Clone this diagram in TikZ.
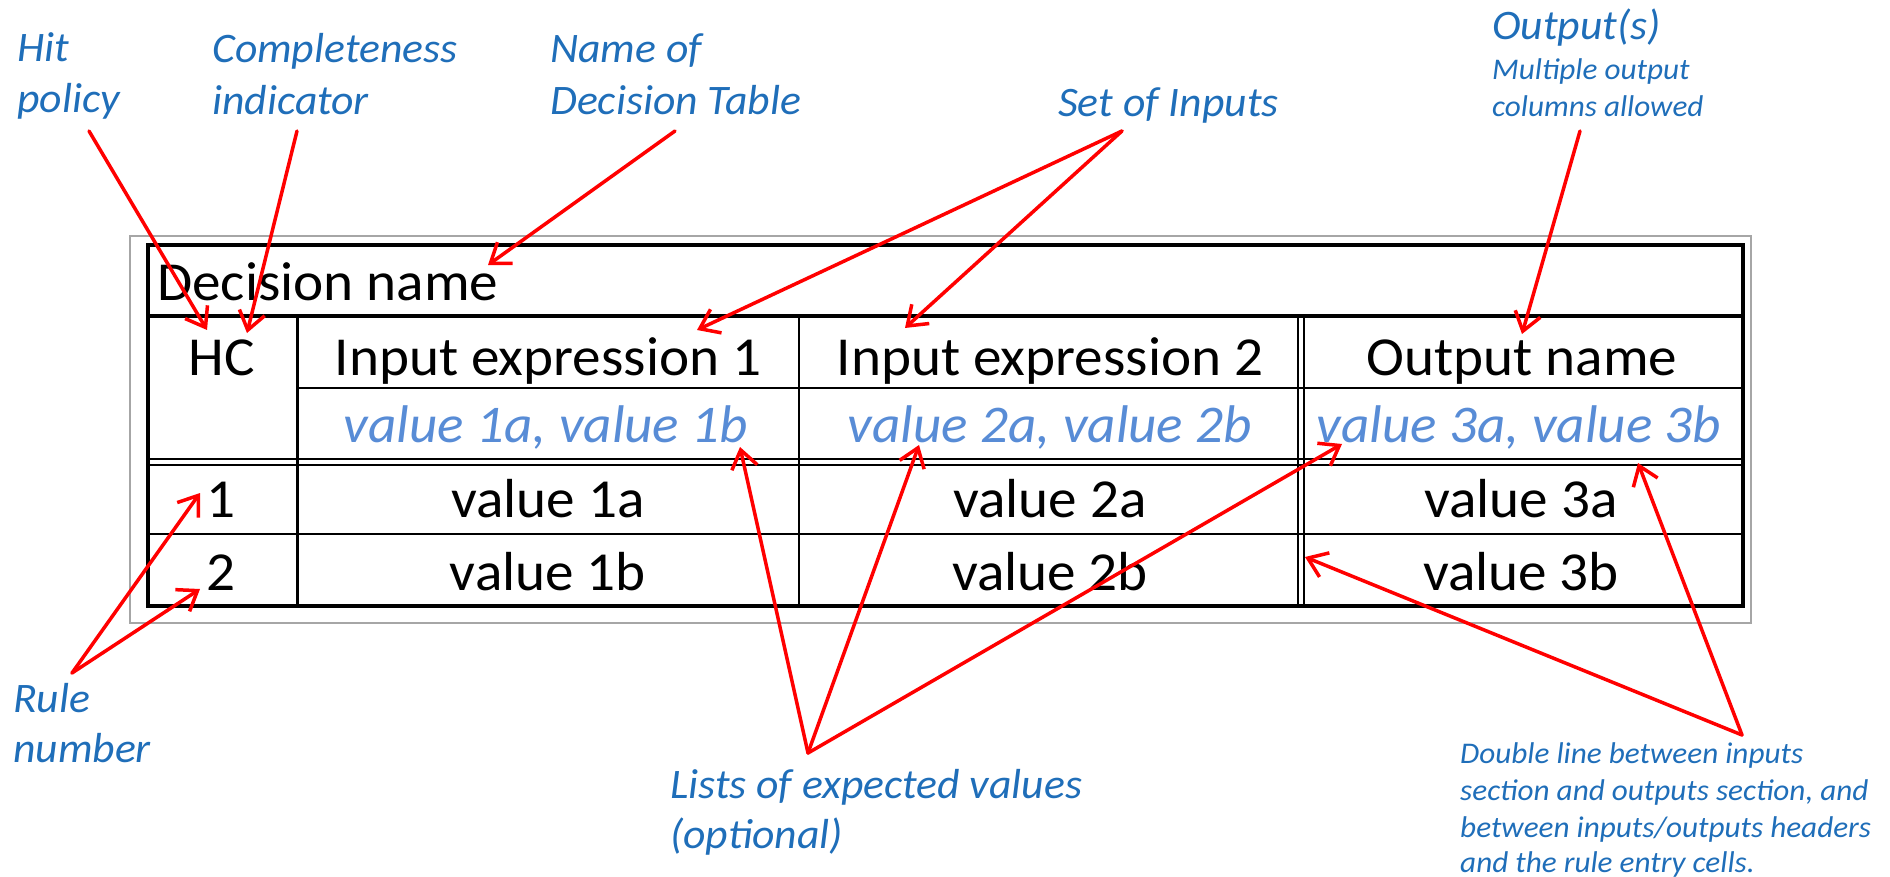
\documentclass[tikz,border=0pt]{standalone}
\usepackage{fontspec}
\setmainfont{Carlito}[FakeStretch=1.04]
\usetikzlibrary{arrows.meta}
\definecolor{lblue}{RGB}{31,110,185}
\definecolor{vblue}{RGB}{88,140,214}
\definecolor{ared}{RGB}{255,0,0}
\definecolor{framegray}{RGB}{166,166,166}
\begin{document}
\begin{tikzpicture}[x=1pt,y=-1pt,
  cell/.style={font=\fontsize{55}{60}\selectfont, inner sep=0pt, anchor=base},
  val/.style={font=\fontsize{53}{60}\selectfont\itshape, text=vblue, inner sep=0pt, anchor=base},
  lbl/.style={font=\fontsize{42}{50}\selectfont\itshape, text=lblue, inner sep=0pt, anchor=base west},
  smalllbl/.style={font=\fontsize{30}{37}\selectfont\itshape, text=lblue, inner sep=0pt, anchor=base west},
  thick line/.style={line width=3.5pt},
  thin line/.style={line width=1.2pt},
  arr/.style={draw=ared, line width=3.5pt, line cap=round, -{Straight Barb[length=18pt,width=26pt,line width=3.5pt]}}
]
\useasboundingbox (0,0) rectangle (1890,877);

% outer gray frame
\draw[framegray, line width=2.5pt] (130,236) rectangle (1751,623);

% table grid
\draw[thin line] (148,534) -- (1743,534);
\draw[thin line] (799,316) -- (799,607);
\draw[line width=2.5pt] (297,388) -- (1743,388);
\draw[line width=2pt] (148,459) -- (1743,459);
\draw[line width=2pt] (148,464.5) -- (1743,464.5);
\draw[line width=2pt] (1298,316) -- (1298,607);
\draw[line width=2pt] (1304,316) -- (1304,607);
\draw[line width=3pt] (297,316) -- (297,607);
\draw[thick line] (148,316) -- (1743,316);
\draw[thick line] (148,245) rectangle (1743,606);

% table texts
\node[cell, anchor=base west] (dname) at (157,301) {Decision name};
\node[cell] (hc) at (222,375) {HC};
\node[cell] (in1) at (548,375) {Input expression 1};
\node[cell] (in2) at (1050,375) {Input expression 2};
\node[cell] (outn) at (1522,375) {Output name};
\node[val] (v1) at (546,442) {value 1a, value 1b};
\node[val] (v2) at (1050,442) {value 2a, value 2b};
\node[val] (v3) at (1519,442) {value 3a, value 3b};
\node[cell] (r1) at (221,517) {1};
\node[cell] (r1a) at (548,517) {value 1a};
\node[cell] (r1b) at (1050,517) {value 2a};
\node[cell] (r1c) at (1521,517) {value 3a};
\node[cell] (r2) at (221,590) {2};
\node[cell] (r2a) at (548,590) {value 1b};
\node[cell] (r2b) at (1050,590) {value 2b};
\node[cell] (r2c) at (1521,590) {value 3b};

% labels
\node[lbl] (hit1) at (17,62) {Hit};
\node[lbl] (hit2) at (17,113) {policy};
\node[lbl] (comp1) at (212,63) {Completeness};
\node[lbl] (comp2) at (212,115) {indicator};
\node[lbl] (name1) at (550,63) {Name of};
\node[lbl] (name2) at (550,115) {Decision Table};
\node[lbl] (setin) at (1058,117) {Set of Inputs};
\node[lbl] (outs) at (1492,40) {Output(s)};
\node[smalllbl] (mult1) at (1492,80) {Multiple output};
\node[smalllbl] (mult2) at (1492,117) {columns allowed};
\node[lbl] (rule1) at (13,712) {Rule};
\node[lbl] (rule2) at (13,762) {number};
\node[lbl] (list1) at (670,798) {Lists of expected values};
\node[lbl] (list2) at (670,848) {(optional)};
\node[smalllbl] (dbl1) at (1460,763) {Double line between inputs};
\node[smalllbl] (dbl2) at (1460,800) {section and outputs section, and};
\node[smalllbl] (dbl3) at (1460,837) {between inputs/outputs headers};
\node[smalllbl] (dbl4) at (1460,872) {and the rule entry cells.};

% arrow endpoints
\coordinate (hitS) at (89,131);
\coordinate (hitT) at (207,330);
\coordinate (compS) at (297,131);
\coordinate (compT) at (247,333);
\coordinate (nameS) at (675,131);
\coordinate (nameT) at (488,265);
\coordinate (setS) at (1122,131);
\coordinate (setT1) at (697,330);
\coordinate (setT2) at (905,328);
\coordinate (outS) at (1580,131);
\coordinate (outT) at (1522,334);
\coordinate (ruleS) at (72,673);
\coordinate (ruleT1) at (200,493);
\coordinate (ruleT2) at (200,589);
\coordinate (listS) at (808,753);
\coordinate (listT1) at (740,447);
\coordinate (listT2) at (919,445);
\coordinate (listT3) at (1342,444);
\coordinate (dblS) at (1742,735);
\coordinate (dblT1) at (1305,557);
\coordinate (dblT2) at (1638,463);

% arrows
\draw[arr] (hitS) -- (hitT);
\draw[arr] (compS) -- (compT);
\draw[arr] (nameS) -- (nameT);
\draw[arr] (setS) -- (setT1);
\draw[arr] (setS) -- (setT2);
\draw[arr] (outS) -- (outT);
\draw[arr] (ruleS) -- (ruleT1);
\draw[arr] (ruleS) -- (ruleT2);
\draw[arr] (listS) -- (listT1);
\draw[arr] (listS) -- (listT2);
\draw[arr] (listS) -- (listT3);
\draw[arr] (dblS) -- (dblT1);
\draw[arr] (dblS) -- (dblT2);
\end{tikzpicture}
\end{document}
